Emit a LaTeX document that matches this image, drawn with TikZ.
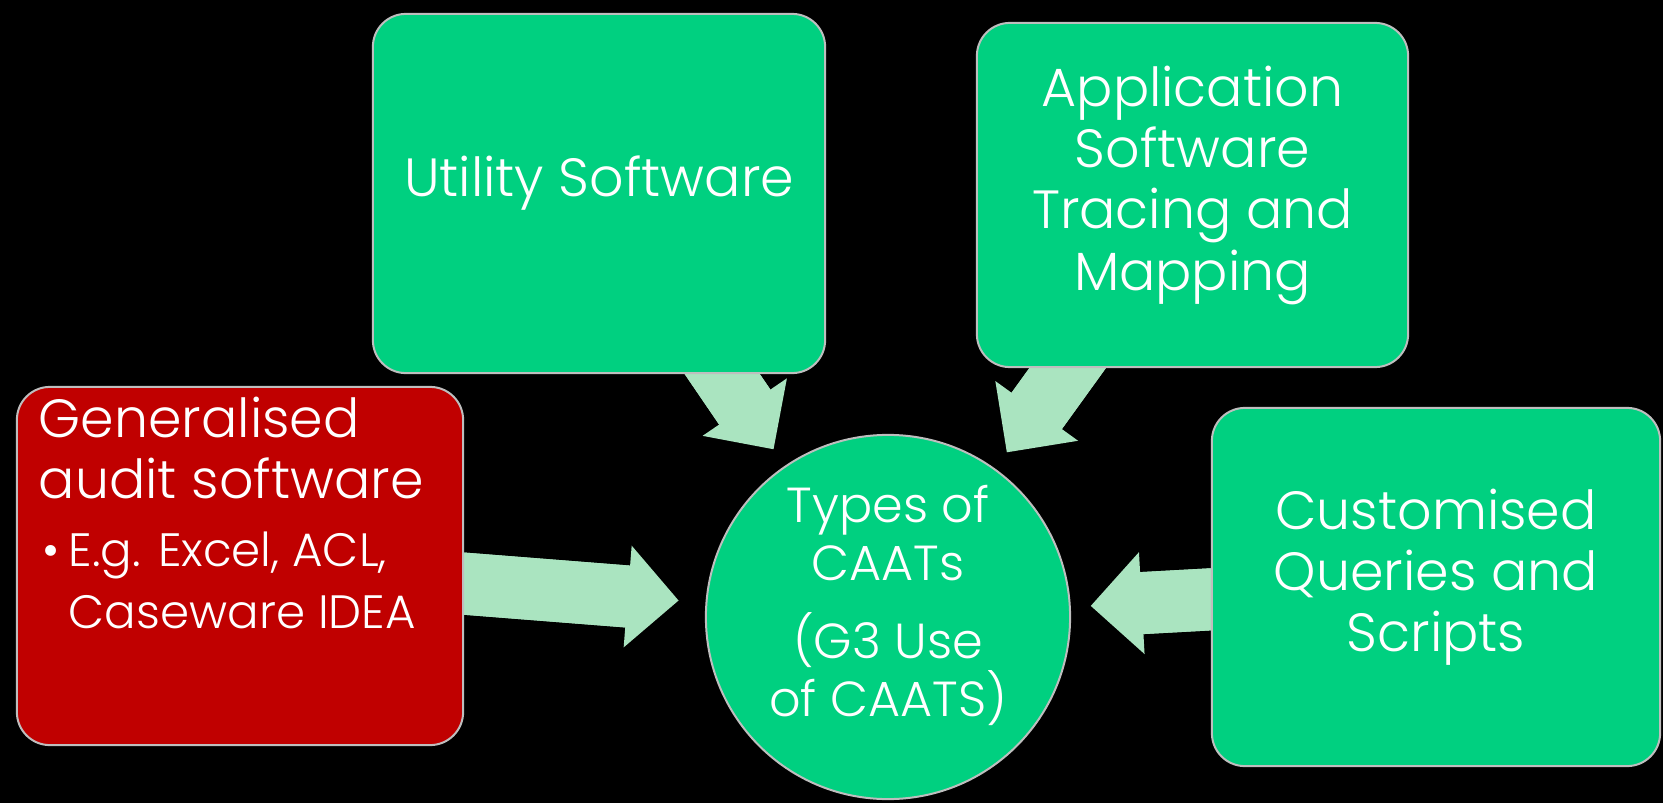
\documentclass[tikz,border=0pt]{standalone}
\usepackage{fontspec}
\setmainfont{Poppins}[UprightFont=* Light]
\usetikzlibrary{arrows.meta}

\definecolor{caatgreen}{RGB}{0,208,128}
\definecolor{gasred}{RGB}{192,0,0}
\definecolor{flowgreen}{RGB}{170,228,192}
\definecolor{rim}{RGB}{190,190,190}

\pgfdeclarelayer{backdrop}
\pgfdeclarelayer{flows}
\pgfsetlayers{backdrop,flows,main}

% centred lines, sitting a little above the middle of their box
\newcommand{\lifted}[1]{\raisebox{0.09cm}[\height][\depth]{\begin{tabular}{@{}c@{}}#1\end{tabular}}}

\tikzset{
  tile/.style={draw=rim, line width=0.02cm, rounded corners=0.33cm, inner sep=0pt,
    text=white, font=\fontsize{15.3}{17.4}\selectfont},
  hub/.style={circle, draw=rim, line width=0.02cm, fill=caatgreen, minimum size=3.64cm,
    inner sep=0pt, text=white, font=\fontsize{14}{16.5}\selectfont},
  % shaft runs on a little under the head so no seam shows
  flow/.style={draw=flowgreen, line width=0.62cm, shorten >=2.03cm,
    -{Triangle[length=0.51cm, width=1.02cm, line width=0pt]},
    preaction={draw=flowgreen, line width=0.62cm, -, shorten >=2.45cm}}
}

\begin{document}
\begin{tikzpicture}[x=0.01cm, y=-0.01cm]
  \begin{pgfonlayer}{backdrop}
    \fill[black] (0,0) rectangle (1663,803);
  \end{pgfonlayer}

  % the hub and the four kinds around it
  \node[hub] (types) at (888,617)
    {\lifted{Types of\\CAATs\\[0.2cm]\smash{(G3 Use}\\\smash{of CAATS)}}};
  \node[tile, fill=caatgreen, minimum width=4.52cm, minimum height=3.59cm] (utility) at (599,193.5)
    {\lifted{Utility Software}};
  \node[tile, fill=caatgreen, minimum width=4.31cm, minimum height=3.44cm] (tracing) at (1192.5,195)
    {\lifted{Application\\Software\\Tracing and\\Mapping}};
  \node[tile, fill=caatgreen, minimum width=4.48cm, minimum height=3.58cm] (queries) at (1436,587)
    {\lifted{Customised\\Queries and\\Scripts}};
  \node[tile, fill=gasred, minimum width=4.46cm, minimum height=3.58cm, inner xsep=0.15cm, inner ysep=0.1cm] (gas) at (240,566)
    {\begin{minipage}[c][3.38cm][t]{4.16cm}\raggedright\leftskip=0.07cm
      Generalised\\
      audit software\par
      \vspace{1.7pt}
      {\fontsize{13.3}{17.6}\selectfont
       \makebox[0.3cm][l]{\hspace{0.04cm}\textbullet}E.g. Excel, ACL,\\
       \hspace*{0.3cm}Caseware IDEA\par}
    \end{minipage}};

  % block arrows run under the boxes
  \begin{pgfonlayer}{flows}
    \draw[flow, shorten >=2.1cm] (gas.center) -- (types.center);
    \draw[flow] (utility.center) -- (types.center);
    \draw[flow] (tracing.center) -- (types.center);
    \draw[flow] (queries.center) -- (types.center);
  \end{pgfonlayer}
\end{tikzpicture}
\end{document}
